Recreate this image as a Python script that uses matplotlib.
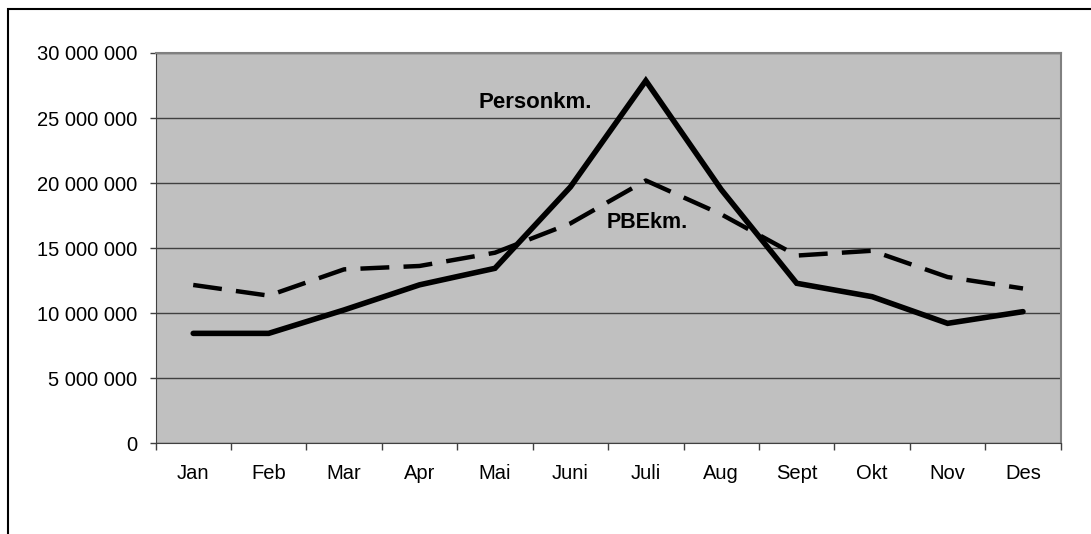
import matplotlib.pyplot as plt
import matplotlib.ticker as ticker
from matplotlib.patches import Rectangle

# data
months = ['Jan', 'Feb', 'Mar', 'Apr', 'Mai', 'Juni', 'Juli', 'Aug', 'Sept', 'Okt', 'Nov', 'Des']
personkm = [8450000, 8450000, 10250000, 12180000, 13450000, 19700000,
            27870000, 19500000, 12300000, 11270000, 9220000, 10120000]
pbekm = [12170000, 11350000, 13370000, 13630000, 14650000, 16900000,
         20200000, 17600000, 14430000, 14800000, 12780000, 11900000]
yticks = [0, 5000000, 10000000, 15000000, 20000000, 25000000, 30000000]

plt.rcParams['font.family'] = ['Liberation Sans', 'DejaVu Sans']

W, H = 1091, 534
fig = plt.figure(figsize=(W/100, H/100), dpi=100)
ax = fig.add_axes([155.5/W, 1-443.3/H, (1060.7-155.5)/W, (443.3-53)/H])
ax.set_facecolor('#c0c0c0')

x = list(range(len(months)))
ax.plot(x, personkm, color='black', lw=4, solid_capstyle='round', solid_joinstyle='miter', zorder=3)
ax.plot(x, pbekm, color='black', lw=3.2, dashes=(6.5, 3.2), zorder=3)

ax.set_xlim(-0.5, len(months) - 0.5)
ax.set_ylim(0, 30000000)

# y axis
ax.set_yticks(yticks)
ax.yaxis.set_major_formatter(ticker.FuncFormatter(lambda v, p: f"{int(v):,}".replace(",", " ")))
ax.tick_params(axis='y', length=4, width=1, color='#404040', labelsize=14.5, pad=9)
ax.grid(axis='y', color='#404040', lw=1)
ax.set_axisbelow(True)

# x axis: ticks between categories, labels centred
ax.set_xticks([i - 0.5 for i in range(len(months) + 1)])
ax.set_xticklabels([])
ax.set_xticks(x, minor=True)
ax.set_xticklabels(months, minor=True)
ax.tick_params(axis='x', which='major', length=5, width=1, color='#404040')
ax.tick_params(axis='x', which='minor', length=0, labelsize=14.5, pad=15)

for s in ['left', 'bottom']:
    ax.spines[s].set_color('#404040')
for s in ['top', 'right']:
    ax.spines[s].set_color('#808080')
    ax.spines[s].set_linewidth(1.5)

ax.text(535, H - 103, 'Personkm.', transform=None, fontsize=16, fontweight='bold',
        ha='center', va='center')
ax.text(647, H - 223, 'PBEkm.', transform=None, fontsize=15.5, fontweight='bold',
        ha='center', va='center')

# outer chart border (cut off at right and bottom)
fig.patches.append(Rectangle((8/W, -0.1), 1.2, 1.1 - 9/H, transform=fig.transFigure,
                             fill=False, edgecolor='black', lw=1.5, clip_on=False))

fig.savefig('out.png', dpi=100)
